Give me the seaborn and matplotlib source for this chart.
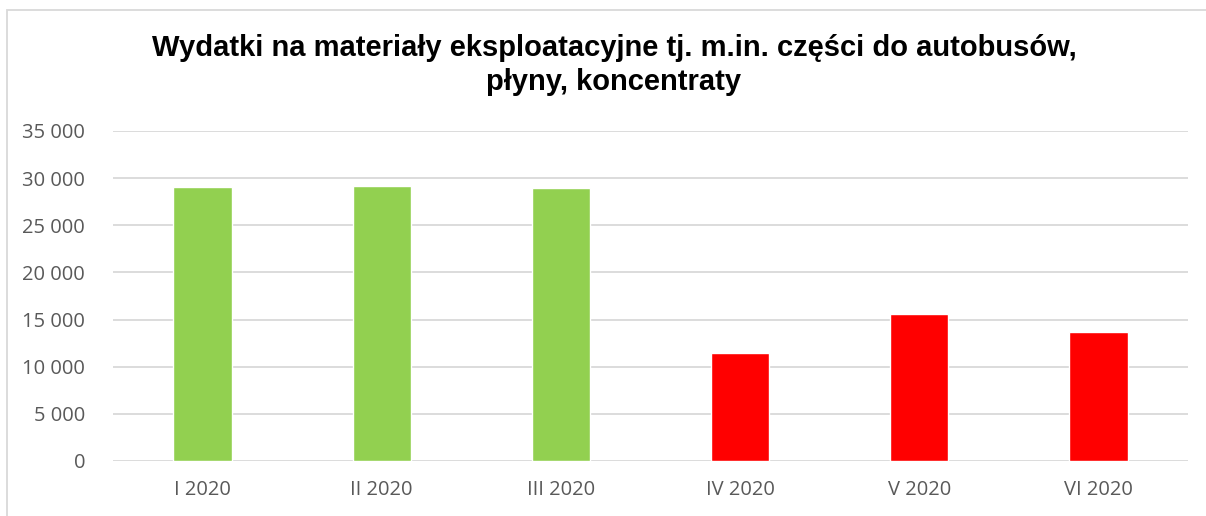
import matplotlib
matplotlib.use("Agg")
import matplotlib.pyplot as plt
import seaborn as sns
import pandas as pd
from matplotlib.ticker import FuncFormatter
from matplotlib.patches import Rectangle

# data
months = ["I 2020", "II 2020", "III 2020", "IV 2020", "V 2020", "VI 2020"]
values = [29050, 29200, 28950, 11450, 15550, 13700]
colors = ["#92D050", "#92D050", "#92D050", "#FF0000", "#FF0000", "#FF0000"]
title = "Wydatki na materiały eksploatacyjne tj. m.in. części do autobusów,\npłyny, koncentraty"

sns.set_style("white")
plt.rcParams['font.family'] = ['Open Sans', 'DejaVu Sans']

df = pd.DataFrame({"month": months, "value": values})

fig = plt.figure(figsize=(12.06, 5.16), dpi=100)
ax = fig.add_axes([113/1206, 1 - 461/516, (1188-113)/1206, (461-131)/516])

sns.barplot(data=df, x="month", y="value", hue="month", palette=colors,
            legend=False, width=0.325, ax=ax, saturation=1)

ax.set_ylim(0, 35000)
ax.set_yticks(range(0, 35001, 5000))
ax.yaxis.set_major_formatter(FuncFormatter(lambda v, p: f"{int(v):,}".replace(",", " ")))
ax.grid(axis="y", color="#D9D9D9", linewidth=1.3)
ax.set_axisbelow(True)
for s in ax.spines.values():
    s.set_visible(False)
ax.set_xlabel("")
ax.set_ylabel("")
ax.tick_params(axis="both", length=0, labelsize=14.5, labelcolor="#595959")
ax.tick_params(axis="y", pad=20)
ax.tick_params(axis="x", pad=14)

fig.text(614/1206, 1 - 65/516, title, ha="center", va="center", fontsize=21,
         fontweight="bold", color="black",
         family=["Liberation Sans", "DejaVu Sans"], linespacing=1.3)

# outer chart frame (cut off at right and bottom)
fig.patches.append(Rectangle((7/1206, -0.1), 1.2, 1 - 10/516 + 0.1,
                             transform=fig.transFigure, fill=False,
                             edgecolor="#D9D9D9", linewidth=1.3))

fig.savefig("out.png", dpi=100)
